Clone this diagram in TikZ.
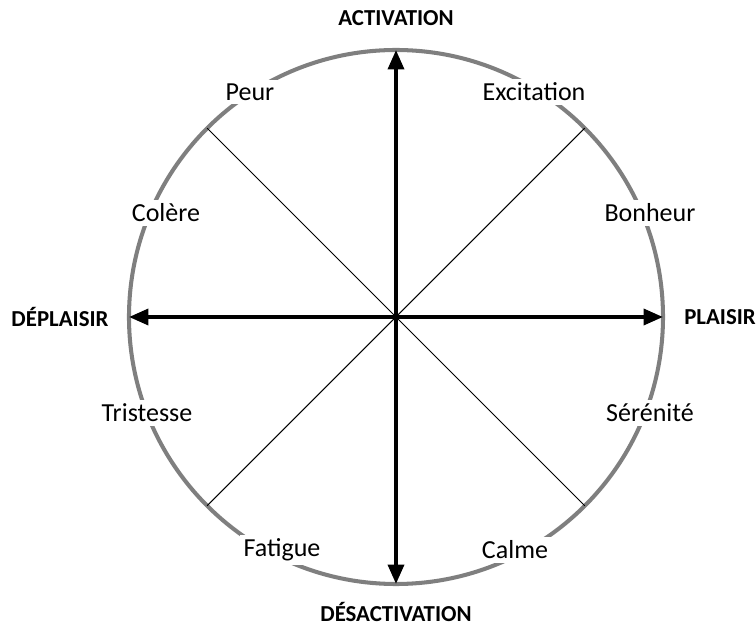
\documentclass[tikz,border=0pt]{standalone}
\usepackage{fontspec}
\setmainfont{Carlito}
\usetikzlibrary{arrows.meta}
\definecolor{Ring}{HTML}{7F7F7F}

\begin{document}
\begin{tikzpicture}[
  ring/.style={draw=Ring,line width=2.3pt},
  axis/.style={draw=black,line width=2.2pt,{Triangle[length=11pt,width=9pt]}-{Triangle[length=11pt,width=9pt]}},
  diag/.style={draw=black,line width=0.6pt},
  emo/.style={fill=white,inner sep=2pt,font=\fontsize{14.8}{17}\selectfont},
  pole/.style={font=\fontsize{13}{15}\selectfont\bfseries}
]
\useasboundingbox (-7.92,-6.22) rectangle (7.2,6.34);
\coordinate (O) at (0,0);
\draw[ring] (O) circle (5.34);
% points on the ring
\foreach \a/\n in {0/e,90/n,180/w,270/s,45/ne,135/nw,225/sw,315/se}
  \coordinate (\n) at (\a:5.34);
\foreach \n in {ne,nw,sw,se} {
  \draw[diag] (O) -- (\n);
}
\draw[axis] (w) -- (e);
\draw[axis] (s) -- (n);
% axis labels
\node[pole] (act) at (0,5.98) {ACTIVATION};
\node[pole] (desact) at (0,-5.9) {DÉSACTIVATION};
\node[pole] (deplaisir) at (-6.72,0) {DÉPLAISIR};
\node[pole] (plaisir) at (6.48,0) {PLAISIR};
% emotions
\node[emo] (peur) at (-2.92,4.5) {Peur};
\node[emo] (excitation) at (2.76,4.5) {Excitation};
\node[emo] (colere) at (-4.6,2.08) {Colère};
\node[emo] (bonheur) at (5.08,2.08) {Bonheur};
\node[emo] (tristesse) at (-4.98,-1.92) {Tristesse};
\node[emo] (serenite) at (5.08,-1.92) {Sérénité};
\node[emo] (fatigue) at (-2.28,-4.66) {Fatigue};
\node[emo] (calme) at (2.38,-4.66) {Calme};
\end{tikzpicture}
\end{document}
